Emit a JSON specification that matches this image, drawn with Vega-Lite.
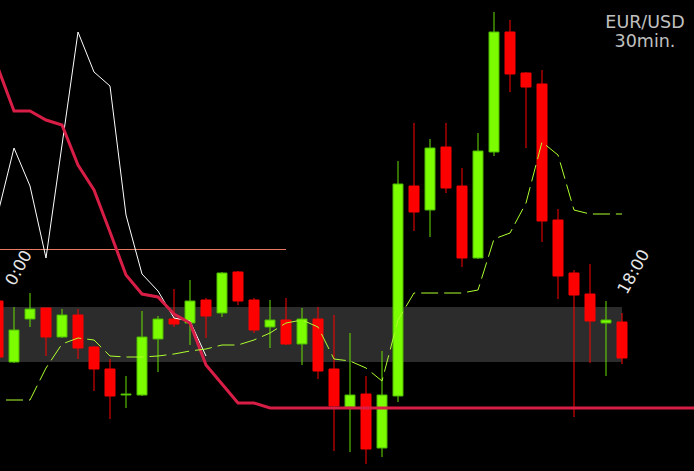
{
  "$schema": "https://vega.github.io/schema/vega-lite/v6.json",
  "width": 694,
  "height": 471,
  "autosize": {"type": "fit", "contains": "padding"},
  "padding": 0,
  "background": "#000000",
  "config": {"view": {"stroke": null}, "scale": {"continuousPadding": 0}},
  "datasets": {
    "candles": [
      {"i": 0, "open": 1.3199, "high": 1.3204, "low": 1.3138, "close": 1.3143},
      {"i": 1, "open": 1.3138, "high": 1.3193, "low": 1.3137, "close": 1.3170},
      {"i": 2, "open": 1.3181, "high": 1.3207, "low": 1.3173, "close": 1.3191},
      {"i": 3, "open": 1.3192, "high": 1.3192, "low": 1.3144, "close": 1.3163},
      {"i": 4, "open": 1.3163, "high": 1.3191, "low": 1.3162, "close": 1.3185},
      {"i": 5, "open": 1.3185, "high": 1.3191, "low": 1.3141, "close": 1.3152},
      {"i": 6, "open": 1.3153, "high": 1.3154, "low": 1.3109, "close": 1.3131},
      {"i": 7, "open": 1.3131, "high": 1.3141, "low": 1.3081, "close": 1.3104},
      {"i": 8, "open": 1.3105, "high": 1.3124, "low": 1.3092, "close": 1.3106},
      {"i": 9, "open": 1.3105, "high": 1.3189, "low": 1.3104, "close": 1.3163},
      {"i": 10, "open": 1.3161, "high": 1.3184, "low": 1.3128, "close": 1.3181},
      {"i": 11, "open": 1.3181, "high": 1.3211, "low": 1.3173, "close": 1.3176},
      {"i": 12, "open": 1.3177, "high": 1.3220, "low": 1.3155, "close": 1.3199},
      {"i": 13, "open": 1.3200, "high": 1.3202, "low": 1.3162, "close": 1.3184},
      {"i": 14, "open": 1.3187, "high": 1.3228, "low": 1.3183, "close": 1.3227},
      {"i": 15, "open": 1.3228, "high": 1.3229, "low": 1.3195, "close": 1.3199},
      {"i": 16, "open": 1.3200, "high": 1.3202, "low": 1.3167, "close": 1.3170},
      {"i": 17, "open": 1.3173, "high": 1.3200, "low": 1.3152, "close": 1.3180},
      {"i": 18, "open": 1.3180, "high": 1.3202, "low": 1.3155, "close": 1.3156},
      {"i": 19, "open": 1.3156, "high": 1.3192, "low": 1.3135, "close": 1.3181},
      {"i": 20, "open": 1.3181, "high": 1.3193, "low": 1.3121, "close": 1.3129},
      {"i": 21, "open": 1.3131, "high": 1.3185, "low": 1.3049, "close": 1.3094},
      {"i": 22, "open": 1.3093, "high": 1.3167, "low": 1.3048, "close": 1.3105},
      {"i": 23, "open": 1.3106, "high": 1.3124, "low": 1.3036, "close": 1.3051},
      {"i": 24, "open": 1.3052, "high": 1.3149, "low": 1.3043, "close": 1.3105},
      {"i": 25, "open": 1.3104, "high": 1.3339, "low": 1.3098, "close": 1.3316},
      {"i": 26, "open": 1.3314, "high": 1.3377, "low": 1.3269, "close": 1.3288},
      {"i": 27, "open": 1.3290, "high": 1.3361, "low": 1.3263, "close": 1.3352},
      {"i": 28, "open": 1.3353, "high": 1.3377, "low": 1.3307, "close": 1.3312},
      {"i": 29, "open": 1.3314, "high": 1.3332, "low": 1.3233, "close": 1.3242},
      {"i": 30, "open": 1.3242, "high": 1.3367, "low": 1.3241, "close": 1.3349},
      {"i": 31, "open": 1.3348, "high": 1.3488, "low": 1.3344, "close": 1.3468},
      {"i": 32, "open": 1.3468, "high": 1.3480, "low": 1.3408, "close": 1.3426},
      {"i": 33, "open": 1.3427, "high": 1.3428, "low": 1.3352, "close": 1.3413},
      {"i": 34, "open": 1.3416, "high": 1.3430, "low": 1.3258, "close": 1.3279},
      {"i": 35, "open": 1.3280, "high": 1.3291, "low": 1.3201, "close": 1.3224},
      {"i": 36, "open": 1.3227, "high": 1.3230, "low": 1.3083, "close": 1.3205},
      {"i": 37, "open": 1.3206, "high": 1.3236, "low": 1.3137, "close": 1.3179},
      {"i": 38, "open": 1.3177, "high": 1.3199, "low": 1.3124, "close": 1.3180},
      {"i": 39, "open": 1.3178, "high": 1.3187, "low": 1.3136, "close": 1.3142}
    ],
    "redline": [
      {"i": 0, "p": 1.3432}, {"i": 1, "p": 1.3389}, {"i": 2, "p": 1.3389}, {"i": 3, "p": 1.3380},
      {"i": 4, "p": 1.3375}, {"i": 5, "p": 1.3335}, {"i": 6, "p": 1.3310}, {"i": 7, "p": 1.3268},
      {"i": 8, "p": 1.3225}, {"i": 9, "p": 1.3206}, {"i": 10, "p": 1.3203}, {"i": 11, "p": 1.3186},
      {"i": 12, "p": 1.3177}, {"i": 13, "p": 1.3135}, {"i": 14, "p": 1.3116}, {"i": 15, "p": 1.3097},
      {"i": 16, "p": 1.3097}, {"i": 17, "p": 1.3092}, {"i": 18, "p": 1.3092}, {"i": 19, "p": 1.3092},
      {"i": 20, "p": 1.3092}, {"i": 21, "p": 1.3092}, {"i": 22, "p": 1.3092}, {"i": 23, "p": 1.3092},
      {"i": 24, "p": 1.3092}, {"i": 25, "p": 1.3092}, {"i": 26, "p": 1.3092}, {"i": 27, "p": 1.3092},
      {"i": 28, "p": 1.3092}, {"i": 29, "p": 1.3092}, {"i": 30, "p": 1.3092}, {"i": 31, "p": 1.3092},
      {"i": 32, "p": 1.3092}, {"i": 33, "p": 1.3092}, {"i": 34, "p": 1.3092}, {"i": 35, "p": 1.3092},
      {"i": 36, "p": 1.3092}, {"i": 37, "p": 1.3092}, {"i": 38, "p": 1.3092}, {"i": 39, "p": 1.3092},
      {"i": 44, "p": 1.3092}
    ],
    "whiteline": [
      {"i": 0, "p": 1.3287}, {"i": 1, "p": 1.3352}, {"i": 2, "p": 1.3314}, {"i": 3, "p": 1.3242},
      {"i": 4, "p": 1.3355}, {"i": 5, "p": 1.3468}, {"i": 6, "p": 1.3428}, {"i": 7, "p": 1.3414},
      {"i": 8, "p": 1.3285}, {"i": 9, "p": 1.3226}, {"i": 10, "p": 1.3209}, {"i": 11, "p": 1.3182},
      {"i": 12, "p": 1.3179}, {"i": 13, "p": 1.3144}
    ],
    "greenline": [
      {"i": 0.5, "p": 1.3100}, {"i": 1, "p": 1.3100}, {"i": 2, "p": 1.3100}, {"i": 3, "p": 1.3132},
      {"i": 4, "p": 1.3156}, {"i": 5, "p": 1.3162}, {"i": 6, "p": 1.3160}, {"i": 7, "p": 1.3144},
      {"i": 8, "p": 1.3143}, {"i": 9, "p": 1.3143}, {"i": 10, "p": 1.3144}, {"i": 11, "p": 1.3146},
      {"i": 12, "p": 1.3149}, {"i": 13, "p": 1.3151}, {"i": 14, "p": 1.3155}, {"i": 15, "p": 1.3155},
      {"i": 16, "p": 1.3160}, {"i": 17, "p": 1.3167}, {"i": 18, "p": 1.3177}, {"i": 19, "p": 1.3180},
      {"i": 20, "p": 1.3173}, {"i": 21, "p": 1.3141}, {"i": 22, "p": 1.3139}, {"i": 23, "p": 1.3132},
      {"i": 24, "p": 1.3119}, {"i": 25, "p": 1.3180}, {"i": 26, "p": 1.3207}, {"i": 27, "p": 1.3207},
      {"i": 28, "p": 1.3207}, {"i": 29, "p": 1.3207}, {"i": 30, "p": 1.3210}, {"i": 31, "p": 1.3261},
      {"i": 32, "p": 1.3267}, {"i": 33, "p": 1.3297}, {"i": 34, "p": 1.3358}, {"i": 35, "p": 1.3345},
      {"i": 36, "p": 1.3290}, {"i": 37, "p": 1.3286}, {"i": 38, "p": 1.3286}, {"i": 39, "p": 1.3286}
    ],
    "zone": [{"start": 0.125, "end": 39, "lo": 1.3138, "hi": 1.3193}],
    "level": [{"start": 0.125, "end": 18, "p": 1.3251}],
    "timelabels": [
      {"i": 1.3125, "p": 1.3232, "label": "0:00"},
      {"i": 39.75, "p": 1.3228, "label": "18:00"}
    ],
    "caption": [
      {"i": 40.4375, "p": 1.3486, "label": "EUR/USD\n30min."}
    ]
  },
  "layer": [
    {
      "data": {"name": "zone"},
      "mark": {"type": "rect", "color": "#2c2c2c", "clip": true},
      "encoding": {
        "x": {"field": "start", "type": "quantitative", "scale": {"domain": [0.125, 43.5], "nice": false, "zero": false, "padding": 0}, "axis": null},
        "x2": {"field": "end"},
        "y": {"field": "hi", "type": "quantitative", "scale": {"domain": [1.3029, 1.35], "nice": false, "zero": false, "padding": 0}, "axis": null},
        "y2": {"field": "lo"}
      }
    },
    {
      "data": {"name": "level"},
      "mark": {"type": "rule", "color": "#e57a60", "strokeWidth": 1, "yOffset": 0.5, "clip": true},
      "encoding": {
        "x": {"field": "start", "type": "quantitative", "scale": {"domain": [0.125, 43.5], "nice": false, "zero": false, "padding": 0}, "axis": null},
        "x2": {"field": "end"},
        "y": {"field": "p", "type": "quantitative", "scale": {"domain": [1.3029, 1.35], "nice": false, "zero": false, "padding": 0}, "axis": null}
      }
    },
    {
      "data": {"name": "candles"},
      "mark": {"type": "rule", "strokeWidth": 1, "clip": true},
      "encoding": {
        "x": {"field": "i", "type": "quantitative", "scale": {"domain": [0.125, 43.5], "nice": false, "zero": false, "padding": 0}, "axis": null},
        "y": {"field": "high", "type": "quantitative", "scale": {"domain": [1.3029, 1.35], "nice": false, "zero": false, "padding": 0}, "axis": null},
        "y2": {"field": "low"},
        "color": {"condition": {"test": "datum.close > datum.open", "value": "#66e000"}, "value": "#ff0000"}
      }
    },
    {
      "data": {"name": "candles"},
      "mark": {"type": "bar", "size": 10, "strokeWidth": 1, "clip": true},
      "encoding": {
        "x": {"field": "i", "type": "quantitative", "scale": {"domain": [0.125, 43.5], "nice": false, "zero": false, "padding": 0}, "axis": null},
        "y": {"field": "open", "type": "quantitative", "scale": {"domain": [1.3029, 1.35], "nice": false, "zero": false, "padding": 0}, "axis": null},
        "y2": {"field": "close"},
        "fill": {"condition": {"test": "datum.close > datum.open", "value": "#7cfc00"}, "value": "#ff0000"},
        "stroke": {"condition": {"test": "datum.close > datum.open", "value": "#4cb800"}, "value": "#ff0000"}
      }
    },
    {
      "data": {"name": "whiteline"},
      "mark": {"type": "line", "color": "#ffffff", "strokeWidth": 1, "clip": true},
      "encoding": {
        "x": {"field": "i", "type": "quantitative", "scale": {"domain": [0.125, 43.5], "nice": false, "zero": false, "padding": 0}, "axis": null},
        "y": {"field": "p", "type": "quantitative", "scale": {"domain": [1.3029, 1.35], "nice": false, "zero": false, "padding": 0}, "axis": null}
      }
    },
    {
      "data": {"name": "redline"},
      "mark": {"type": "line", "color": "#d81e46", "strokeWidth": 3, "clip": true},
      "encoding": {
        "x": {"field": "i", "type": "quantitative", "scale": {"domain": [0.125, 43.5], "nice": false, "zero": false, "padding": 0}, "axis": null},
        "y": {"field": "p", "type": "quantitative", "scale": {"domain": [1.3029, 1.35], "nice": false, "zero": false, "padding": 0}, "axis": null}
      }
    },
    {
      "data": {"name": "greenline"},
      "mark": {"type": "line", "color": "#adff2f", "strokeWidth": 1, "strokeDash": [17, 6], "clip": true},
      "encoding": {
        "x": {"field": "i", "type": "quantitative", "scale": {"domain": [0.125, 43.5], "nice": false, "zero": false, "padding": 0}, "axis": null},
        "y": {"field": "p", "type": "quantitative", "scale": {"domain": [1.3029, 1.35], "nice": false, "zero": false, "padding": 0}, "axis": null}
      }
    },
    {
      "data": {"name": "timelabels"},
      "mark": {"type": "text", "angle": 299, "align": "center", "baseline": "middle", "font": "DejaVu Sans", "fontSize": 16.5, "color": "#e6e6e6"},
      "encoding": {
        "x": {"field": "i", "type": "quantitative", "scale": {"domain": [0.125, 43.5], "nice": false, "zero": false, "padding": 0}, "axis": null},
        "y": {"field": "p", "type": "quantitative", "scale": {"domain": [1.3029, 1.35], "nice": false, "zero": false, "padding": 0}, "axis": null},
        "text": {"field": "label"}
      }
    },
    {
      "data": {"name": "caption"},
      "mark": {"type": "text", "align": "center", "baseline": "top", "lineBreak": "\n", "lineHeight": 19, "font": "DejaVu Sans", "fontSize": 17.5, "color": "#c0c0c0"},
      "encoding": {
        "x": {"field": "i", "type": "quantitative", "scale": {"domain": [0.125, 43.5], "nice": false, "zero": false, "padding": 0}, "axis": null},
        "y": {"field": "p", "type": "quantitative", "scale": {"domain": [1.3029, 1.35], "nice": false, "zero": false, "padding": 0}, "axis": null},
        "text": {"field": "label"}
      }
    }
  ]
}
